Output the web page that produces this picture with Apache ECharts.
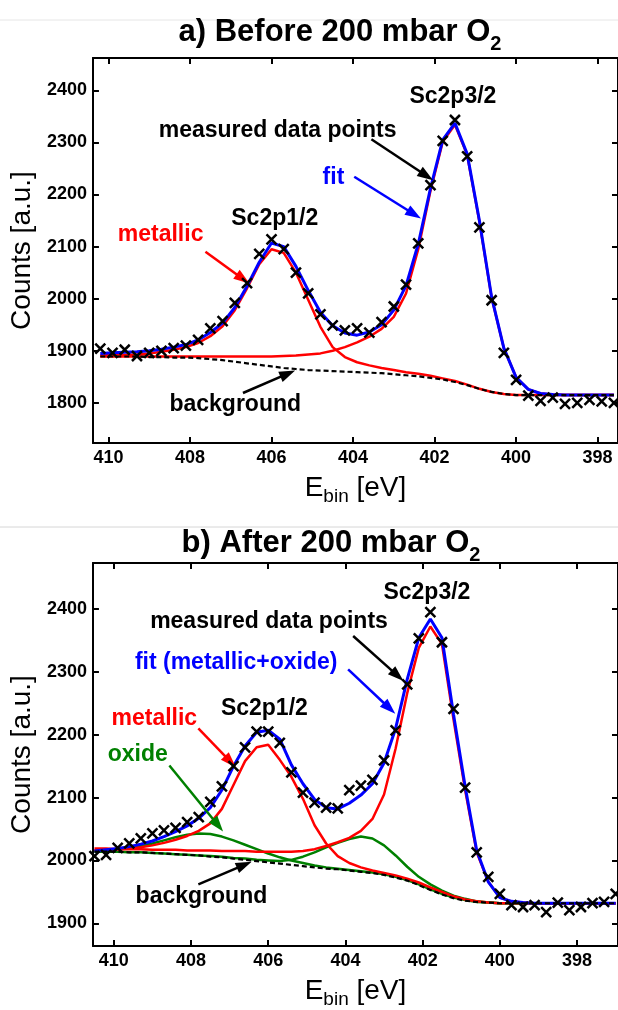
<!DOCTYPE html>
<html>
<head>
<meta charset="utf-8">
<script src="https://cdn.jsdelivr.net/npm/echarts@6/dist/echarts.min.js"></script>
<style>
  html, body { margin: 0; padding: 0; background: #fff; }
  #main { width: 618px; height: 1010px; }
</style>
</head>
<body>
<div id="main"></div>
<script>
// ---- data: panel a (before O2) ----
const eA = [410.2, 409.9, 409.6, 409.3, 409.0, 408.7, 408.4, 408.1, 407.8, 407.5, 407.2, 406.9, 406.6, 406.3, 406.0,
  405.7, 405.4, 405.1, 404.8, 404.5, 404.2, 403.9, 403.6, 403.3, 403.0, 402.7, 402.4, 402.1, 401.8, 401.5,
  401.2, 400.9, 400.6, 400.3, 400.0, 399.7, 399.4, 399.1, 398.8, 398.5, 398.2, 397.9, 397.6];
const measuredA = [1904, 1896, 1902, 1890, 1896, 1900, 1905, 1910, 1921, 1943, 1957, 1992, 2030, 2086, 2114,
  2095, 2050, 2010, 1970, 1949, 1939, 1943, 1935, 1955, 1985, 2027, 2106, 2218, 2303, 2343,
  2273, 2137, 1997, 1896, 1844, 1814, 1804, 1810, 1798, 1800, 1806, 1803, 1800];
const fitA = [1895, 1896, 1897, 1898, 1900, 1903, 1907, 1912, 1921, 1935, 1953, 1983, 2024, 2070, 2107,
  2100, 2062, 2016, 1974, 1948, 1934, 1930, 1936, 1950, 1978, 2025, 2105, 2212, 2305, 2337,
  2278, 2150, 2003, 1905, 1849, 1826, 1818, 1816, 1815, 1815, 1815, 1815, 1815];
const metal1A = [1891, 1892, 1892, 1893, 1895, 1898, 1902, 1907, 1915, 1928, 1947, 1978, 2020, 2066, 2095,
  2088, 2050, 1998, 1946, 1907, 1888, 1878, 1872, 1867, 1863, 1859, 1856, 1852, 1847, 1842,
  1835, 1827, 1821, 1817, 1815, 1815, 1815, 1815, 1815, 1815, 1815, 1815, 1815];
const metal2A = [1889, 1889, 1889, 1889, 1889, 1889, 1889, 1889, 1889, 1889, 1889, 1889, 1889, 1889, 1889,
  1890, 1891, 1893, 1895, 1900, 1907, 1916, 1927, 1942, 1965, 2010, 2095, 2207, 2301, 2334,
  2276, 2148, 2002, 1905, 1849, 1826, 1818, 1816, 1815, 1815, 1815, 1815, 1815];
const bgA = [1889, 1889, 1889, 1889, 1888, 1888, 1887, 1887, 1886, 1884, 1882, 1879, 1876, 1873, 1870,
  1867, 1865, 1863, 1862, 1861, 1860, 1859, 1858, 1857, 1855, 1853, 1851, 1848, 1845, 1840,
  1834, 1827, 1821, 1817, 1815, 1815, 1815, 1815, 1815, 1815, 1815, 1815, 1815];

// ---- data: panel b (after O2) ----
const eB = [410.5, 410.2, 409.9, 409.6, 409.3, 409.0, 408.7, 408.4, 408.1, 407.8, 407.5, 407.2, 406.9, 406.6, 406.3,
  406.0, 405.7, 405.4, 405.1, 404.8, 404.5, 404.2, 403.9, 403.6, 403.3, 403.0, 402.7, 402.4, 402.1, 401.8,
  401.5, 401.2, 400.9, 400.6, 400.3, 400.0, 399.7, 399.4, 399.1, 398.8, 398.5, 398.2, 397.9, 397.6, 397.3, 397.0];
const measuredB = [2007, 2009, 2020, 2027, 2035, 2043, 2048, 2052, 2061, 2069, 2093, 2118, 2150, 2180, 2205,
  2205, 2187, 2140, 2108, 2092, 2084, 2083, 2112, 2119, 2128, 2159, 2207, 2280, 2353, 2395,
  2347, 2241, 2116, 2013, 1974, 1947, 1929, 1926, 1929, 1918, 1933, 1921, 1926, 1932, 1934, 1947];
const fitB = [2015, 2017, 2019, 2022, 2026, 2031, 2038, 2046, 2055, 2067, 2084, 2112, 2150, 2182, 2204,
  2207, 2193, 2152, 2122, 2097, 2084, 2082, 2091, 2104, 2122, 2155, 2210, 2288, 2354, 2384,
  2354, 2232, 2118, 2016, 1966, 1941, 1935, 1933, 1932, 1932, 1932, 1932, 1932, 1932, 1932, 1932];
const metal1B = [2016, 2017, 2018, 2019, 2021, 2024, 2028, 2033, 2039, 2047, 2059, 2082, 2120, 2158, 2180,
  2184, 2160, 2133, 2098, 2056, 2027, 2007, 1996, 1989, 1984, 1980, 1976, 1971, 1965, 1957,
  1950, 1943, 1938, 1935, 1933, 1932, 1932, 1932, 1932, 1932, 1932, 1932, 1932, 1932, 1932, 1932];
const metal2B = [2019, 2019, 2018, 2018, 2018, 2017, 2017, 2017, 2016, 2016, 2016, 2015, 2015, 2015, 2014,
  2014, 2014, 2014, 2015, 2018, 2023, 2029, 2036, 2047, 2066, 2105, 2178, 2266, 2338, 2372,
  2344, 2224, 2112, 2013, 1966, 1941, 1935, 1933, 1932, 1932, 1932, 1932, 1932, 1932, 1932, 1932];
const oxide1B = [2015, 2016, 2018, 2020, 2023, 2027, 2032, 2037, 2041, 2043, 2042, 2038, 2032, 2025, 2018,
  2011, 2005, 2000, 1996, 1992, 1989, 1987, 1985, 1983, 1981, 1978, 1974, 1969, 1962, 1954,
  1947, 1941, 1937, 1934, 1933, 1932, 1932, 1932, 1932, 1932, 1932, 1932, 1932, 1932, 1932, 1932];
const oxide2B = [2014, 2014, 2014, 2013, 2013, 2012, 2011, 2010, 2009, 2008, 2007, 2006, 2004, 2003, 2001,
  2000, 1999, 2001, 2006, 2013, 2021, 2028, 2034, 2038, 2035, 2024, 2008, 1990, 1974, 1962,
  1952, 1944, 1939, 1935, 1933, 1932, 1932, 1932, 1932, 1932, 1932, 1932, 1932, 1932, 1932, 1932];
const bgB = [2014, 2014, 2014, 2013, 2013, 2012, 2011, 2010, 2009, 2008, 2006, 2005, 2003, 2001, 1999,
  1997, 1995, 1993, 1991, 1989, 1987, 1986, 1984, 1982, 1980, 1977, 1973, 1968, 1961, 1953,
  1946, 1940, 1936, 1934, 1933, 1932, 1932, 1932, 1932, 1932, 1932, 1932, 1932, 1932, 1932, 1932];

// tick labels
const xTicks = [398, 400, 402, 404, 406, 408, 410];
const yTicksA = [1800, 1900, 2000, 2100, 2200, 2300, 2400];
const yTicksB = [1900, 2000, 2100, 2200, 2300, 2400];

// annotations, in data coordinates
const notesA = [
  { text: 'Sc2p3/2', at: [401.55, 2388], color: '#000' },
  { text: 'measured data points', at: [405.85, 2322], color: '#000' },
  { text: 'fit', at: [404.48, 2232], color: '#0000ff' },
  { text: 'Sc2p1/2', at: [405.92, 2154], color: '#000' },
  { text: 'metallic', at: [408.72, 2122], color: '#ff0000' },
  { text: 'background', at: [406.89, 1797], color: '#000' }
];
const arrowsA = [
  { from: [403.55, 2306], to: [402.2, 2236], color: '#000' },
  { from: [403.97, 2234], to: [402.5, 2162], color: '#0000ff' },
  { from: [407.62, 2090], to: [406.7, 2038], color: '#ff0000' },
  { from: [406.70, 1819], to: [405.6, 1856], color: '#000' }
];
const notesB = [
  { text: 'Sc2p3/2', at: [401.89, 2426], color: '#000' },
  { text: 'measured data points', at: [405.98, 2380], color: '#000' },
  { text: 'fit (metallic+oxide)', at: [406.83, 2315], color: '#0000ff' },
  { text: 'Sc2p1/2', at: [406.1, 2241], color: '#000' },
  { text: 'metallic', at: [408.95, 2225], color: '#ff0000' },
  { text: 'oxide', at: [409.38, 2168], color: '#008000' },
  { text: 'background', at: [407.73, 1943], color: '#000' }
];
const arrowsB = [
  { from: [403.80, 2357], to: [402.65, 2294], color: '#000' },
  { from: [403.93, 2304], to: [402.86, 2242], color: '#0000ff' },
  { from: [407.81, 2210], to: [406.98, 2157], color: '#ff0000' },
  { from: [408.56, 2151], to: [407.3, 2056], color: '#008000' },
  { from: [407.81, 1962], to: [406.62, 1993], color: '#000' }
];

const FONT = '"Liberation Sans", Arial, Helvetica, sans-serif';
const chart = echarts.init(document.getElementById('main'));

function xAxis(grid, min, max, position) {
  const bottom = position === 'bottom';
  return {
    type: 'value', gridIndex: grid, min: min, max: max, inverse: true, position: position,
    axisLine: { show: true, onZero: false, lineStyle: { color: '#000', width: 2 } },
    axisTick: { show: true, inside: true, length: 6, customValues: xTicks, lineStyle: { color: '#000', width: 2 } },
    axisLabel: { show: bottom, customValues: xTicks, margin: 6, color: '#000', fontSize: 18, fontWeight: 'bold',
      fontFamily: FONT, formatter: v => String(v) },
    splitLine: { show: false },
    name: bottom ? '{e|E}{s|bin}{e| [eV]}' : '',
    nameLocation: 'middle', nameGap: 27,
    nameTextStyle: {
      rich: {
        e: { fontSize: 28, lineHeight: 36, color: '#000', fontFamily: FONT },
        s: { fontSize: 19, verticalAlign: 'bottom', color: '#000', fontFamily: FONT }
      }
    }
  };
}
function yAxis(grid, min, max, position, ticks) {
  const left = position === 'left';
  return {
    type: 'value', gridIndex: grid, min: min, max: max, position: position,
    axisLine: { show: true, onZero: false, lineStyle: { color: '#000', width: 2 } },
    axisTick: { show: true, inside: true, length: 6, customValues: ticks, lineStyle: { color: '#000', width: 2 } },
    axisLabel: { show: left, customValues: ticks, margin: 6, color: '#000', fontSize: 18, fontWeight: 'bold',
      fontFamily: FONT, formatter: v => String(v) },
    splitLine: { show: false },
    name: left ? 'Counts [a.u.]' : '',
    nameLocation: 'middle', nameGap: 41,
    nameTextStyle: { fontSize: 28, color: '#000', fontFamily: FONT }
  };
}
function curve(x, y, e, vals, color, dashed, width) {
  return {
    type: 'line', xAxisIndex: x, yAxisIndex: y, symbol: 'none', smooth: false, silent: true,
    lineStyle: { color: color, width: width || 2.5, type: dashed ? [5, 3] : 'solid' },
    data: e.map((v, i) => [v, vals[i]])
  };
}
function points(x, y, e, vals) {
  return {
    type: 'scatter', xAxisIndex: x, yAxisIndex: y, silent: true, z: 5,
    symbol: 'path://M0,0L10,10M10,0L0,10', symbolSize: 10,
    itemStyle: { color: 'rgba(0,0,0,0)', borderColor: '#000', borderWidth: 2.5, opacity: 1 },
    data: e.map((v, i) => [v, vals[i]])
  };
}
function notes(x, y, list, arrows) {
  return {
    type: 'line', xAxisIndex: x, yAxisIndex: y, data: [], silent: true, z: 6,
    markPoint: {
      symbol: 'circle', symbolSize: 1, itemStyle: { color: 'rgba(0,0,0,0)' }, silent: true,
      data: list.map(n => ({
        coord: n.at, name: n.text,
        label: { show: true, position: 'inside', formatter: n.text, color: n.color,
          fontSize: 23, fontWeight: 'bold', fontFamily: FONT }
      }))
    },
    markLine: {
      silent: true, symbol: ['none', 'triangle'], symbolSize: [11, 16], label: { show: false },
      data: arrows.map(a => [
        { coord: a.from, lineStyle: { color: a.color, width: 2.5, type: 'solid' } },
        { coord: a.to }
      ])
    }
  };
}
function title(x, y, txt) {
  return {
    type: 'text', x: x, y: y, z: 10,
    style: {
      text: '{m|' + txt + '}{s|2}', align: 'center', verticalAlign: 'top',
      rich: {
        m: { fontSize: 31, fontWeight: 'bold', fontFamily: FONT, lineHeight: 44, fill: '#000' },
        s: { fontSize: 20, fontWeight: 'bold', fontFamily: FONT, verticalAlign: 'bottom', fill: '#000' }
      }
    }
  };
}

chart.setOption({
  animation: false,
  backgroundColor: '#fff',
  grid: [
    { left: 91, top: 58, width: 528, height: 385 },
    { left: 91, top: 563, width: 528, height: 385 }
  ],
  xAxis: [
    xAxis(0, 397.5, 410.38, 'bottom'), xAxis(0, 397.5, 410.38, 'top'),
    xAxis(1, 396.94, 410.54, 'bottom'), xAxis(1, 396.94, 410.54, 'top')
  ],
  yAxis: [
    yAxis(0, 1723, 2462, 'left', yTicksA), yAxis(0, 1723, 2462, 'right', yTicksA),
    yAxis(1, 1864, 2473, 'left', yTicksB), yAxis(1, 1864, 2473, 'right', yTicksB)
  ],
  graphic: [
    { type: 'line', shape: { x1: 0, y1: 20, x2: 618, y2: 20 }, style: { stroke: '#e6e6e6', lineWidth: 1 } },
    { type: 'line', shape: { x1: 0, y1: 527, x2: 618, y2: 527 }, style: { stroke: '#d6d6d6', lineWidth: 1 } },
    title(340, 10, 'a) Before 200 mbar O'),
    title(331, 521, 'b) After 200 mbar O')
  ],
  series: [
    curve(0, 0, eA, metal1A, '#ff0000'),
    curve(0, 0, eA, metal2A, '#ff0000'),
    curve(0, 0, eA, fitA, '#0000ff', false, 3),
    curve(0, 0, eA, bgA, '#000', true, 2.2),
    points(0, 0, eA, measuredA),
    notes(0, 0, notesA, arrowsA),

    curve(2, 2, eB, oxide1B, '#008000'),
    curve(2, 2, eB, oxide2B, '#008000'),
    curve(2, 2, eB, metal1B, '#ff0000'),
    curve(2, 2, eB, metal2B, '#ff0000'),
    curve(2, 2, eB, fitB, '#0000ff', false, 3),
    curve(2, 2, eB, bgB, '#000', true, 2.2),
    points(2, 2, eB, measuredB),
    notes(2, 2, notesB, arrowsB)
  ]
});
</script>
</body>
</html>
